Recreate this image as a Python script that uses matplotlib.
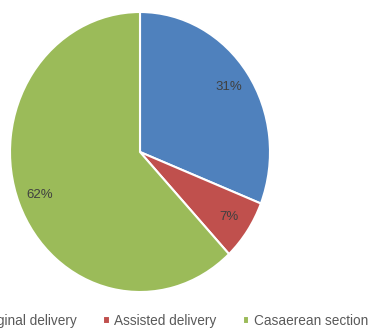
import matplotlib
matplotlib.use("Agg")
import matplotlib.pyplot as plt

labels = ['Vaginal delivery', 'Assisted delivery', 'Casaerean section']
values = [31, 7, 62]
colors = ['#4F81BD', '#C0504D', '#9BBB59']

plt.rcParams['font.family'] = ['Liberation Sans', 'DejaVu Sans']

fig = plt.figure(figsize=(3.74, 3.28), dpi=100)
# pie is slightly stretched vertically in the original
ax = fig.add_axes([10 / 374, 36 / 328, 260 / 374, 280 / 328])

wedges, texts, autotexts = ax.pie(values, colors=colors, startangle=90, counterclock=False,
                                  autopct='%d%%', pctdistance=0.83,
                                  wedgeprops=dict(edgecolor='white', linewidth=1.5),
                                  textprops=dict(color='#404040', fontsize=9.5))
ax.set_aspect('auto')
ax.set_xlim(-1, 1)
ax.set_ylim(-1, 1)

# legend runs past the left edge in the original, so first label is clipped
leg = fig.legend(wedges, labels, loc='center', bbox_to_anchor=(0.452, 0.021), ncol=3,
                 frameon=False, fontsize=9.8, handlelength=0.5, handleheight=0.5,
                 handletextpad=0.35, columnspacing=1.9, borderaxespad=0)
for t in leg.get_texts():
    t.set_color('#595959')

fig.savefig('out.png', dpi=100)
